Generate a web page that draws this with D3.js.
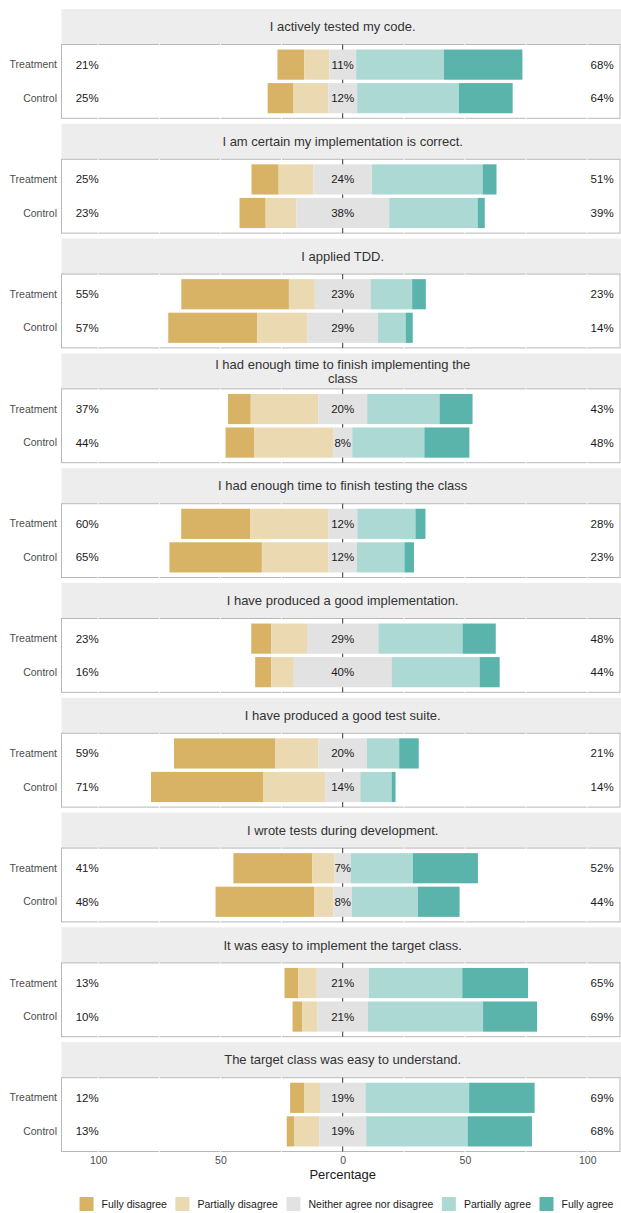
<!DOCTYPE html>
<html>
<head>
<meta charset="utf-8">
<script src="https://cdnjs.cloudflare.com/ajax/libs/d3/7.8.5/d3.min.js"></script>
<style>
    body { margin: 0; background: #fff; }
    svg { display: block; font-family: "Liberation Sans", Arial, Helvetica, sans-serif; }
</style>
</head>
<body>
<div id="chart"></div>
<script>
// questions (one facet each), "\n" = line break in the strip
const questions = [
    "I actively tested my code.",
    "I am certain my implementation is correct.",
    "I applied TDD.",
    "I had enough time to finish implementing the\nclass",
    "I had enough time to finish testing the class",
    "I have produced a good implementation.",
    "I have produced a good test suite.",
    "I wrote tests during development.",
    "It was easy to implement the target class.",
    "The target class was easy to understand."
]
const groups = ["Treatment", "Control"]
const levels = ["Fully disagree", "Partially disagree", "Neither agree nor disagree", "Partially agree", "Fully agree"]
const levelColors = ["#D8B365", "#EAD9B1", "#E2E2E2", "#ADD9D4", "#5AB4AC"]

// percentages per question: [fully dis, partially dis, neutral, partially agree, fully agree]
const treatment = [
    [11.0, 10.2, 11.0, 35.9, 32.1],
    [11.1, 14.2, 24.0, 45.2, 5.7],
    [44.0, 10.6, 22.8, 17.0, 5.6],
    [9.3, 27.6, 20.0, 29.6, 13.5],
    [28.3, 31.8, 11.9, 23.8, 4.1],
    [8.2, 14.6, 29.2, 34.4, 13.6],
    [41.5, 17.6, 19.8, 13.2, 8.0],
    [32.3, 9.1, 6.6, 25.4, 26.6],
    [5.6, 7.6, 21.2, 38.3, 26.9],
    [5.7, 6.5, 18.6, 42.4, 26.8]
]
const control = [
    [10.6, 14.2, 11.8, 41.6, 22.0],
    [10.7, 12.5, 38.0, 36.2, 2.9],
    [36.4, 20.5, 28.9, 11.3, 2.9],
    [11.8, 32.2, 7.8, 29.5, 18.4],
    [37.8, 27.2, 11.7, 19.4, 3.9],
    [6.6, 9.2, 40.0, 36.0, 8.2],
    [45.8, 25.4, 14.4, 12.8, 1.6],
    [40.4, 7.8, 7.6, 27.0, 17.0],
    [4.0, 6.2, 20.6, 47.1, 22.1],
    [3.0, 10.3, 19.2, 41.5, 26.3]
]
const xTicks = [-100, -50, 0, 50, 100]
const gridTicks = [-100, -75, -50, -25, 25, 50, 75, 100]

var width = 621, height = 1213
var panelLeft = 61.5, panelRight = 620
var firstTop = 9, stripH = 35.5, panelH = 73.8, facetStep = 114.8

var x = d3.scaleLinear()
    .domain([-115, 115])
    .range([61.5, 623.9])

var y = d3.scalePoint()
    .domain(groups)
    .range([0, panelH])
    .padding(0.6)

var barH = y.step() * 0.9

var svg = d3.select("#chart")
    .append("svg")
    .attr("width", width)
    .attr("height", height)

// turn one row of percentages into stacked segments around 0
function segments(p) {
    var half = p[2] / 2
    return [
        {lvl: 0, x0: -half - p[1] - p[0], x1: -half - p[1]},
        {lvl: 1, x0: -half - p[1], x1: -half},
        {lvl: 2, x0: -half, x1: half},
        {lvl: 3, x0: half, x1: half + p[3]},
        {lvl: 4, x0: half + p[3], x1: half + p[3] + p[4]}
    ]
}

questions.forEach(function (q, i) {
    var top = firstTop + i * facetStep
    var g = svg.append("g").attr("transform", "translate(0," + top + ")")

    // strip
    g.append("rect")
        .attr("x", panelLeft)
        .attr("y", 0)
        .attr("width", width - panelLeft)
        .attr("height", stripH)
        .attr("fill", "#EDEDED")

    var lines = q.split("\n")
    g.selectAll(".strip-line")
        .data(lines)
        .enter()
        .append("text")
        .attr("x", x(0))
        .attr("y", function (d, k) { return stripH / 2 + (k - (lines.length - 1) / 2) * 14 })
        .attr("dy", "0.35em")
        .attr("text-anchor", "middle")
        .style("font-size", "13px")
        .style("fill", "#333")
        .text(function (d) { return d })

    // panel
    var p = g.append("g").attr("transform", "translate(0," + stripH + ")")

    p.append("rect")
        .attr("x", panelLeft)
        .attr("y", 0)
        .attr("width", panelRight - panelLeft)
        .attr("height", panelH)
        .attr("fill", "#fff")
        .attr("stroke", "#B8B8B8")
        .attr("stroke-width", 1)

    p.selectAll(".grid")
        .data(gridTicks)
        .enter()
        .append("line")
        .attr("x1", function (d) { return x(d) })
        .attr("x2", function (d) { return x(d) })
        .attr("y1", -0.6)
        .attr("y2", panelH + 0.6)
        .attr("stroke", "#fff")
        .attr("stroke-width", 1)

    // zero line (behind the bars)
    p.append("line")
        .attr("x1", x(0))
        .attr("x2", x(0))
        .attr("y1", 0)
        .attr("y2", panelH)
        .attr("stroke", "#333")
        .attr("stroke-width", 1)

    var rows = [treatment[i], control[i]]

    rows.forEach(function (vals, r) {
        var cy = y(groups[r])
        p.selectAll(".bar-" + r)
            .data(segments(vals))
            .enter()
            .append("rect")
            .attr("x", function (d) { return x(d.x0) })
            .attr("width", function (d) { return x(d.x1) - x(d.x0) })
            .attr("y", cy - barH / 2)
            .attr("height", barH)
            .attr("fill", function (d) { return levelColors[d.lvl] })

        var low = Math.round(vals[0] + vals[1])
        var mid = Math.round(vals[2])
        var high = Math.round(vals[3] + vals[4])

        p.append("text")
            .attr("x", x(-109.2))
            .attr("y", cy)
            .attr("dy", "0.35em")
            .attr("text-anchor", "start")
            .style("font-size", "11.5px")
            .style("fill", "#1a1a1a")
            .text(low + "%")

        p.append("text")
            .attr("x", x(0))
            .attr("y", cy)
            .attr("dy", "0.35em")
            .attr("text-anchor", "middle")
            .style("font-size", "11.5px")
            .style("fill", "#1a1a1a")
            .text(mid + "%")

        p.append("text")
            .attr("x", x(110.8))
            .attr("y", cy)
            .attr("dy", "0.35em")
            .attr("text-anchor", "end")
            .style("font-size", "11.5px")
            .style("fill", "#1a1a1a")
            .text(high + "%")

        // group label on the left
        p.append("text")
            .attr("x", 57)
            .attr("y", cy)
            .attr("dy", "0.35em")
            .attr("text-anchor", "end")
            .style("font-size", "10.5px")
            .style("fill", "#4D4D4D")
            .text(groups[r])
    })
})

// x axis under the last panel
var axisY = firstTop + (questions.length - 1) * facetStep + stripH + panelH

var xAxis = d3.axisBottom(x)
    .tickValues(xTicks)
    .tickFormat(function (d) { return Math.abs(d) })
    .tickSize(0)
    .tickPadding(5)

var axisG = svg.append("g")
    .attr("transform", "translate(0," + axisY + ")")
    .call(xAxis)

axisG.select(".domain").remove()
axisG.selectAll("text")
    .style("font-size", "10.5px")
    .style("font-family", "Liberation Sans, Arial, sans-serif")
    .style("fill", "#4D4D4D")

svg.append("text")
    .attr("x", x(0))
    .attr("y", axisY + 23)
    .attr("dy", "0.35em")
    .attr("text-anchor", "middle")
    .style("font-size", "13px")
    .style("fill", "#1a1a1a")
    .text("Percentage")

// legend
var legendY = 1204
var keySize = 14
var legend = svg.append("g")

var items = legend.selectAll(".item")
    .data(levels)
    .enter()
    .append("g")

items.append("rect")
    .attr("width", keySize)
    .attr("height", keySize)
    .attr("y", legendY - keySize / 2)
    .attr("fill", function (d, k) { return levelColors[k] })

items.append("text")
    .attr("x", keySize + 8)
    .attr("y", legendY)
    .attr("dy", "0.35em")
    .style("font-size", "10.5px")
    .style("fill", "#1a1a1a")
    .text(function (d) { return d })

var offsets = []
var pos = 0
items.each(function (d, k) {
    offsets.push(pos)
    var tw = d3.select(this).select("text").node().getComputedTextLength()
    pos += keySize + 8 + tw + 8.5
})
var totalW = pos - 8.5
var startX = 346.5 - totalW / 2

items.attr("transform", function (d, k) { return "translate(" + (startX + offsets[k]) + ",0)" })
</script>
</body>
</html>
